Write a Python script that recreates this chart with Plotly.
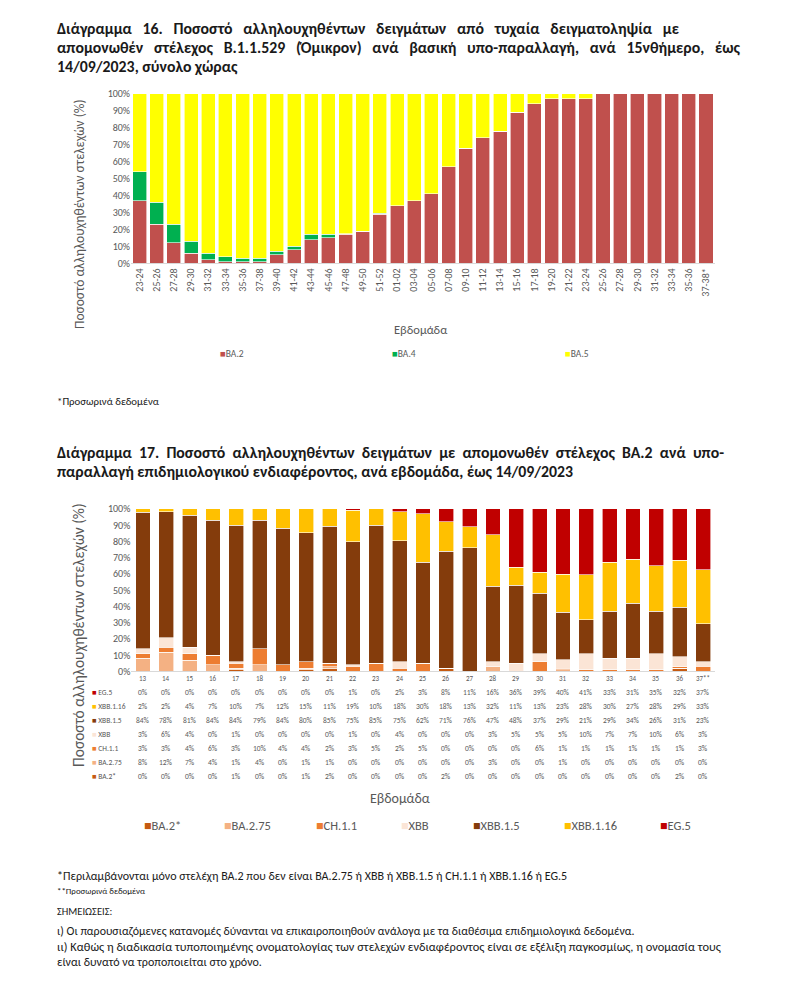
import plotly.graph_objects as go

# ---------------- Chart 16 data ----------------
periods16 = ["23-24", "25-26", "27-28", "29-30", "31-32", "33-34", "35-36", "37-38", "39-40",
             "41-42", "43-44", "45-46", "47-48", "49-50", "51-52", "01-02", "03-04", "05-06",
             "07-08", "09-10", "11-12", "13-14", "15-16", "17-18", "19-20", "21-22", "23-24",
             "25-26", "27-28", "29-30", "31-32", "33-34", "35-36", "37-38*"]
ba2 = [37, 23, 12, 6, 2, 1, 1, 1, 5, 8, 14, 15, 17, 19, 29, 34, 37, 41,
       57, 68, 74, 78, 89, 94, 97, 97, 97, 100, 100, 100, 100, 100, 100, 100]
ba4 = [17, 13, 11, 7, 4, 3, 2, 2, 2, 2, 3, 2, 0.5, 0, 0.5, 0, 0, 0,
       0, 0, 0, 0, 0, 0, 0, 0, 0, 0, 0, 0, 0, 0, 0, 0]
ba5 = [46, 64, 77, 87, 94, 96, 97, 97, 93, 90, 83, 83, 82.5, 81, 70.5, 66, 63, 59,
       43, 32, 26, 22, 11, 6, 3, 3, 3, 0, 0, 0, 0, 0, 0, 0]

# ---------------- Chart 17 data ----------------
weeks17 = ["13", "14", "15", "16", "17", "18", "19", "20", "21", "22", "23", "24", "25",
           "26", "27", "28", "29", "30", "31", "32", "33", "34", "35", "36", "37**"]
eg5 = [0, 0, 0, 0, 0, 0, 0, 0, 0, 1, 0, 2, 3, 8, 11, 16, 36, 39, 40, 41, 33, 31, 35, 32, 37]
xbb116 = [2, 2, 4, 7, 10, 7, 12, 15, 11, 19, 10, 18, 30, 18, 13, 32, 11, 13, 23, 28, 30, 27, 28, 29, 33]
xbb15 = [84, 78, 81, 84, 84, 79, 84, 80, 85, 75, 85, 75, 62, 71, 76, 47, 48, 37, 29, 21, 29, 34, 26, 31, 23]
xbb = [3, 6, 4, 0, 1, 0, 0, 0, 0, 1, 0, 4, 0, 0, 0, 3, 5, 5, 5, 10, 7, 7, 10, 6, 3]
ch11 = [3, 3, 4, 6, 3, 10, 4, 4, 2, 3, 5, 2, 5, 0, 0, 0, 0, 6, 1, 1, 1, 1, 1, 1, 3]
ba275 = [8, 12, 7, 4, 1, 4, 0, 1, 1, 0, 0, 0, 0, 0, 0, 3, 0, 0, 1, 0, 0, 0, 0, 0, 0]
ba2star = [0, 0, 0, 0, 1, 0, 0, 1, 2, 0, 0, 0, 0, 2, 0, 0, 0, 0, 0, 0, 0, 0, 0, 2, 0]

yticks = list(range(0, 101, 10))
yticktext = ["%d%%" % v for v in yticks]

FONT = "Carlito, 'Liberation Sans Narrow', 'Open Sans', sans-serif"
GRAY = "#595959"
DARK = "#1a1a1a"
W, H = 800, 985


def py(px):
    return 1 - px / H


def pxx(px):
    return px / W


def justify(text, extra):
    """Widen inter-word gaps with non-breaking spaces (approximate justified text)."""
    words = text.split(" ")
    out = words[0]
    acc = 0.0
    for w in words[1:]:
        acc += extra
        n = int(round(acc))
        acc -= n
        out += " " + "\u00a0" * n + w
    return out


def note(text, x, y, size, color=GRAY, **kw):
    d = dict(text=text, x=x, y=y, xref="paper", yref="paper", xanchor="left", yanchor="middle",
             showarrow=False, font=dict(family=FONT, size=size, color=color))
    d.update(kw)
    return d


fig = go.Figure()

c16 = [("BA.2", ba2, "#C0504D"), ("BA.4", ba4, "#00B050"), ("BA.5", ba5, "#FFFF00")]
xi = list(range(len(periods16)))
for name, vals, col in c16:
    fig.add_trace(go.Bar(x=xi, y=vals, name=name, width=0.82, showlegend=False,
                         marker=dict(color=col, line=dict(color="white", width=0.6)),
                         xaxis="x", yaxis="y"))

xw = list(range(len(weeks17)))
series17 = [("BA.2*", ba2star, "#C55A11"), ("BA.2.75", ba275, "#F4B183"), ("CH.1.1", ch11, "#ED7D31"),
            ("XBB", xbb, "#FBE5D6"), ("XBB.1.5", xbb15, "#843C0C"), ("XBB.1.16", xbb116, "#FFC000"),
            ("EG.5", eg5, "#C00000")]
for name, vals, col in series17:
    fig.add_trace(go.Bar(x=xw, y=vals, name=name, width=0.64, showlegend=False,
                         marker=dict(color=col, line=dict(color="white", width=0.6)),
                         xaxis="x2", yaxis="y2"))

ann = []
title1 = [("Διάγραμμα 16. Ποσοστό αλληλουχηθέντων δειγμάτων από τυχαία δειγματοληψία με", 2.0),
          ("απομονωθέν στέλεχος Β.1.1.529 (Όμικρον) ανά βασική υπο-παραλλαγή, ανά 15νθήμερο, έως", 2.0),
          ("14/09/2023, σύνολο χώρας", 0)]
for i, (t, ex) in enumerate(title1):
    ann.append(note("<b>%s</b>" % justify(t, ex), pxx(55), py(22 + i * 19), 15.8, DARK))
title2 = [("Διάγραμμα 17. Ποσοστό αλληλουχηθέντων δειγμάτων με απομονωθέν στέλεχος ΒΑ.2 ανά υπο-", 1.0),
          ("παραλλαγή επιδημιολογικού ενδιαφέροντος, ανά εβδομάδα, έως 14/09/2023", 0)]
for i, (t, ex) in enumerate(title2):
    ann.append(note("<b>%s</b>" % justify(t, ex), pxx(55), py(452 + i * 19), 15.8, DARK))

ytitle = "Ποσοστό αλληλουχηθέντων στελεχών (%)"
ann.append(note(ytitle, pxx(79), py(210), 13.5, textangle=-90, xanchor="center"))
ann.append(note(ytitle, pxx(79), py(637), 15.5, textangle=-90, xanchor="center"))
ann.append(note("Εβδομάδα", pxx(420), py(327), 12.5, xanchor="center"))
ann.append(note("Εβδομάδα", pxx(400), py(803), 14, xanchor="center"))
ann.append(note("*Προσωρινά δεδομένα", pxx(55), py(400), 10.8, DARK))

# manual legends
leg1_x = [218, 390, 563]
for (name, vals, col), lx in zip(c16, leg1_x):
    ann.append(note("<span style='color:%s'>■</span>%s" % (col, name), pxx(lx), py(352), 9.5))
leg2_x = [142, 222, 314, 399, 471, 562, 658]
for (name, vals, col), lx in zip(series17, leg2_x):
    ann.append(note("<span style='color:%s'>■</span>%s" % (col, name), pxx(lx), py(830), 12.5))

# week labels for chart 17 (x axis category labels)
for i, w in zip(xw, weeks17):
    ann.append(dict(text=w, x=i, y=py(681), xref="x2", yref="paper", xanchor="center",
                    yanchor="middle", showarrow=False, font=dict(family=FONT, size=7, color=GRAY)))

# data table for chart 17
table_rows = [("EG.5", eg5, "#C00000"), ("XBB.1.16", xbb116, "#FFC000"), ("XBB.1.5", xbb15, "#843C0C"),
              ("XBB", xbb, "#FBE5D6"), ("CH.1.1", ch11, "#ED7D31"), ("BA.2.75", ba275, "#F4B183"),
              ("BA.2*", ba2star, "#C55A11")]
for r, (name, vals, col) in enumerate(table_rows):
    yy = py(695 + r * 14.3)
    ann.append(note("<span style='color:%s'>■</span> %s" % (col, name), pxx(90), yy, 7.5))
    for i, v in zip(xw, vals):
        ann.append(dict(text="%d%%" % round(v), x=i, y=yy, xref="x2", yref="paper", xanchor="center",
                        yanchor="middle", showarrow=False, font=dict(family=FONT, size=7.5, color=GRAY)))

notes = [("*Περιλαμβάνονται μόνο στελέχη ΒΑ.2 που δεν είναι ΒΑ.2.75 ή XBB ή XBB.1.5 ή CH.1.1 ή XBB.1.16 ή EG.5", 882, 12),
         ("**Προσωρινά δεδομένα", 897, 8.9),
         ("ΣΗΜΕΙΩΣΕΙΣ:", 918, 10.5),
         ("ι) Οι παρουσιαζόμενες κατανομές δύνανται να επικαιροποιηθούν ανάλογα με τα διαθέσιμα επιδημιολογικά δεδομένα.", 937, 11.9),
         ("ιι) Καθώς η διαδικασία τυποποιημένης ονοματολογίας των στελεχών ενδιαφέροντος είναι σε εξέλιξη παγκοσμίως, η ονομασία τους", 953, 12.4),
         ("είναι δυνατό να τροποποιείται στο χρόνο.", 969, 12)]
for t, yy, fs in notes:
    ann.append(note(t, pxx(55), py(yy), fs, DARK))

fig.update_layout(
    width=W, height=H, autosize=False, margin=dict(l=0, r=0, t=0, b=0),
    paper_bgcolor="white", plot_bgcolor="white", barmode="stack", barnorm="percent",
    font=dict(family=FONT, color=GRAY), showlegend=False,
    annotations=ann,
    xaxis=dict(domain=[pxx(131), pxx(714.6)], range=[-0.5, len(periods16) - 0.5],
               tickmode="array", tickvals=xi, ticktext=periods16, tickangle=-90,
               tickfont=dict(size=10, color=GRAY), showgrid=False, zeroline=False,
               showline=True, linecolor="#d9d9d9", ticks=""),
    yaxis=dict(domain=[py(260), py(88)], range=[0, 100], tickmode="array", tickvals=yticks,
               ticktext=yticktext, tickfont=dict(size=10, color=GRAY), showgrid=False, zeroline=False),
    xaxis2=dict(domain=[pxx(131.3), pxx(714.7)], range=[-0.5, len(weeks17) - 0.5],
                showticklabels=False, showgrid=False, zeroline=False, showline=True,
                linecolor="#d9d9d9", ticks="", anchor="y2"),
    yaxis2=dict(domain=[py(674), py(509)], range=[0, 100], tickmode="array", tickvals=yticks,
                ticktext=yticktext, tickfont=dict(size=10, color=GRAY), showgrid=False, zeroline=False,
                anchor="x2"),
)

fig.write_html("out.html", config={"displayModeBar": False},
               post_script="document.body.style.margin='0';document.body.style.padding='0';")
